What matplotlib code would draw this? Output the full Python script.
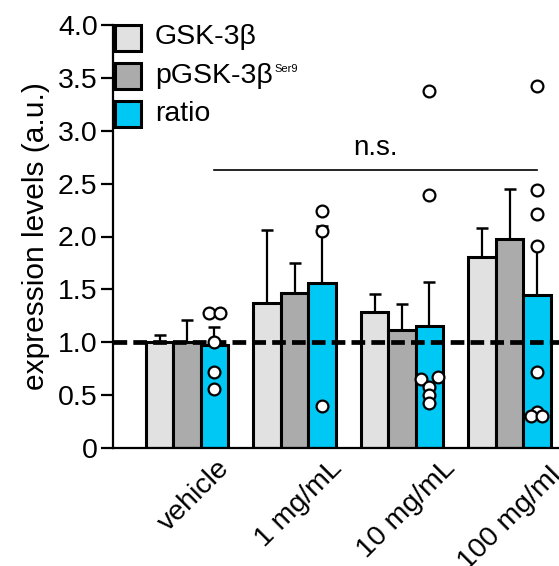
import matplotlib
matplotlib.use("Agg")
import matplotlib.pyplot as plt
from matplotlib.patches import Rectangle
import numpy as np

plt.rcParams['font.family'] = ['Liberation Sans', 'DejaVu Sans']

# ---------------- data ----------------
groups = ["vehicle", "1 mg/mL", "10 mg/mL", "100 mg/mL"]
series = ["GSK-3β", "pGSK-3β", "ratio"]
gsk_mean = [1.00, 1.37, 1.29, 1.81]
gsk_err_top = [1.07, 2.06, 1.46, 2.08]
pgsk_mean = [1.00, 1.47, 1.12, 1.98]
pgsk_err_top = [1.21, 1.75, 1.36, 2.45]
ratio_mean = [0.97, 1.56, 1.15, 1.45]
ratio_err_top = [1.14, 2.10, 1.57, 1.92]

ratio_points = [
    [1.28, 1.28, 1.00, 0.72, 0.56],
    [2.24, 2.05, 0.40],
    [3.38, 2.39, 0.65, 0.67, 0.58, 0.50, 0.43],
    [3.42, 2.44, 2.21, 1.91, 0.72, 0.34, 0.30, 0.30],
]
# horizontal jitter of points (fraction of bar width)
ratio_jitter = [
    [-0.2, 0.2, 0, 0, 0],
    [0, 0, 0],
    [0, 0, -0.3, 0.3, 0, 0, 0],
    [0, 0, 0, 0, 0, 0, -0.2, 0.2],
]
ns_y = 2.63
ref_line = 1.0
yticks = [0, 0.5, 1.0, 1.5, 2.0, 2.5, 3.0, 3.5, 4.0]
ytick_labels = ["0", "0.5", "1.0", "1.5", "2.0", "2.5", "3.0", "3.5", "4.0"]

colors = ["#e1e1e1", "#ababab", "#00c8f5"]

# ---------------- figure ----------------
W, H = 559, 566
fig = plt.figure(figsize=(W / 100, H / 100), dpi=100)

def fx(px):
    return px / W

def fy(py):
    return 1 - py / H

ax_left_px, ax_right_px = 113, 600
ax_top_px, ax_bot_px = 25, 448
ax = fig.add_axes([fx(ax_left_px), fy(ax_bot_px), fx(ax_right_px - ax_left_px),
                   (ax_bot_px - ax_top_px) / H])

px_per_unit = 107.5
x0_px = 187
ax.set_xlim((ax_left_px - x0_px) / px_per_unit, (ax_right_px - x0_px) / px_per_unit)
ax.set_ylim(0, 4.0)

x = np.arange(len(groups))
bw = 0.255
means = [gsk_mean, pgsk_mean, ratio_mean]
tops = [gsk_err_top, pgsk_err_top, ratio_err_top]
for i in range(3):
    xs = x + (i - 1) * bw
    m = np.array(means[i])
    t = np.array(tops[i])
    ax.errorbar(xs, m, yerr=[np.zeros_like(m), t - m], fmt='none', ecolor='black',
                elinewidth=1.6, capsize=4, capthick=1.8, zorder=1)
    ax.bar(xs, m, width=bw, color=colors[i], edgecolor='black', linewidth=2.2, zorder=2)

# reference dashed line
ax.axhline(ref_line, color='black', linewidth=3.4, dashes=(2.9, 1.3), zorder=3)

# points on ratio bars
for g in range(len(groups)):
    xc = x[g] + bw
    pts = ratio_points[g]
    jit = ratio_jitter[g]
    ax.plot([xc + j * bw for j in jit], pts, 'o', markersize=8.5, markerfacecolor='white',
            markeredgecolor='black', markeredgewidth=1.6, linestyle='none', zorder=5)

# n.s. bracket
ax.plot([x[0] + bw, x[-1] + bw], [ns_y, ns_y], color='black', linewidth=1.2, zorder=4)
ax.text((x[0] + x[-1]) / 2 + bw, ns_y + 0.08, "n.s.", ha='center', va='bottom', fontsize=20)

# axes styling
for s in ['top', 'right']:
    ax.spines[s].set_visible(False)
ax.spines['left'].set_linewidth(1.6)
ax.spines['bottom'].set_linewidth(1.6)
ax.set_yticks(yticks)
ax.set_yticklabels(ytick_labels, fontsize=20.5)
ax.tick_params(axis='y', length=9, width=1.6, pad=2)
ax.set_xticks(x * 1.05 + bw + 0.1)
ax.set_xticklabels(groups, rotation=45, ha='right', va='center', rotation_mode='anchor', fontsize=20.5)
ax.tick_params(axis='x', length=0, pad=12)
ax.set_ylabel("expression levels (a.u.)", fontsize=21.5, labelpad=6)

# manual legend
leg_rows = [37.5, 76, 114]
sq = 26
for i, yc in enumerate(leg_rows):
    fig.add_artist(Rectangle((fx(115), fy(yc + sq / 2)), fx(sq), sq / H, transform=fig.transFigure,
                             facecolor=colors[i], edgecolor='black', linewidth=2.2))
    t = fig.text(fx(155), fy(yc), series[i], ha='left', va='center', fontsize=20.5)
    if i == 1:
        ax.annotate("Ser9", xy=(1, 1), xycoords=t, xytext=(1, -1), textcoords='offset points',
                    ha='left', va='top', fontsize=8, annotation_clip=False)

fig.savefig("out.png", dpi=100)
